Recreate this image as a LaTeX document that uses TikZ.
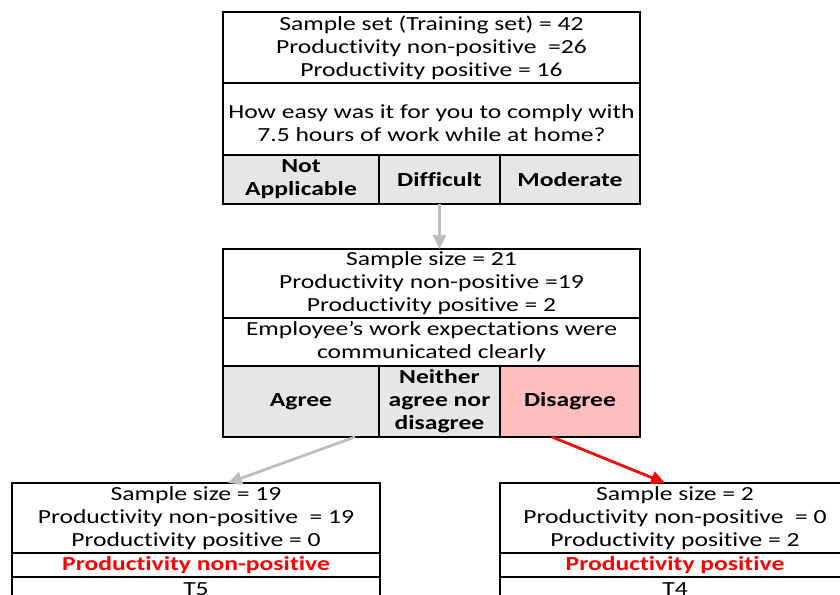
\documentclass[tikz,border=0pt]{standalone}
\usepackage{fontspec}
\setmainfont{Carlito}[FakeStretch=1.28, Ligatures=NoCommon]
\usepackage{xcolor}
\usepackage{tikz}
\usetikzlibrary{
	arrows.meta,
	positioning,
	}
\definecolor{cellgray}{RGB}{230,230,230}
\definecolor{cellpink}{RGB}{255,190,190}
\definecolor{arrowgray}{RGB}{190,190,190}
\definecolor{arrowred}{RGB}{240,10,10}

\begin{document}
\begin{tikzpicture}[x=0.5pt,y=-0.5pt,
		font=\fontsize{10}{11.5}\selectfont,
		box/.style={draw, line width=1.2pt, inner sep=0pt, outer sep=0pt, align=center},
		cell/.style={box, fill=cellgray, font=\fontsize{10}{11.5}\selectfont\bfseries},
		leaf/.style={box, text=red, font=\fontsize{10}{11.5}\selectfont\bfseries},
		branch/.style={-{Triangle[length=7pt,width=6.5pt]}, line width=1.4pt},
	]
		\clip (0,0) rectangle (840,594);
		% root split
		\node[box, minimum width=208.5pt, minimum height=35.5pt] (top1) at (431.5,47.5) {Sample set (Training set) = 42\\Productivity non-positive ~=26\\Productivity positive = 16};
		\node[box, minimum width=208.5pt, minimum height=36pt, below=0pt of top1] (top2) {~\\How easy was it for you to comply with\\7.5 hours of work while at home?};
		\node[cell, minimum width=78pt, minimum height=24.5pt, below right=0pt and 0pt of top2.south west] (na) {Not\\Applicable};
		\node[cell, minimum width=60.5pt, minimum height=24.5pt, right=0pt of na] (diff) {Difficult};
		\node[cell, minimum width=70pt, minimum height=24.5pt, right=0pt of diff] (mod) {Moderate};
		% second split
		\node[box, minimum width=208.5pt, minimum height=34.5pt] (mid1) at (431.5,283.5) {Sample size = 21\\Productivity non-positive =19\\Productivity positive = 2};
		\node[box, minimum width=208.5pt, minimum height=24pt, below=0pt of mid1] (mid2) {Employee’s work expectations were\\communicated clearly};
		\node[cell, minimum width=78pt, minimum height=35.5pt, below right=0pt and 0pt of mid2.south west] (agree) {Agree};
		\node[cell, minimum width=60.5pt, minimum height=35.5pt, right=0pt of agree] (neither) {Neither\\agree nor\\disagree};
		\node[cell, fill=cellpink, minimum width=70pt, minimum height=35.5pt, right=0pt of neither] (disagree) {Disagree};
		% leaves
		\node[box, minimum width=184pt, minimum height=35pt] (left1) at (196,518) {Sample size = 19\\Productivity non-positive ~= 19\\Productivity positive = 0};
		\node[leaf, minimum width=184pt, minimum height=12pt, below=0pt of left1] (left2) {Productivity non-positive};
		\node[box, minimum width=184pt, minimum height=12pt, below=0pt of left2] (left3) {T5};
		\node[box, minimum width=175pt, minimum height=35pt] (right1) at (675,518) {Sample size = 2\\Productivity non-positive ~= 0\\Productivity positive = 2};
		\node[leaf, minimum width=175pt, minimum height=12pt, below=0pt of right1] (right2) {Productivity positive};
		\node[box, minimum width=175pt, minimum height=12pt, below=0pt of right2] (right3) {T4};
		% branches
		\draw[branch, arrowgray] (diff.south) -- (diff.south |- mid1.north);
		\draw[branch, arrowgray] ([xshift=-12pt]agree.south east) -- ([xshift=16pt]left1.north);
		\draw[branch, arrowred] ([xshift=-9pt]disagree.south) -- ([xshift=-5pt]right1.north);
	\end{tikzpicture}
\end{document}
